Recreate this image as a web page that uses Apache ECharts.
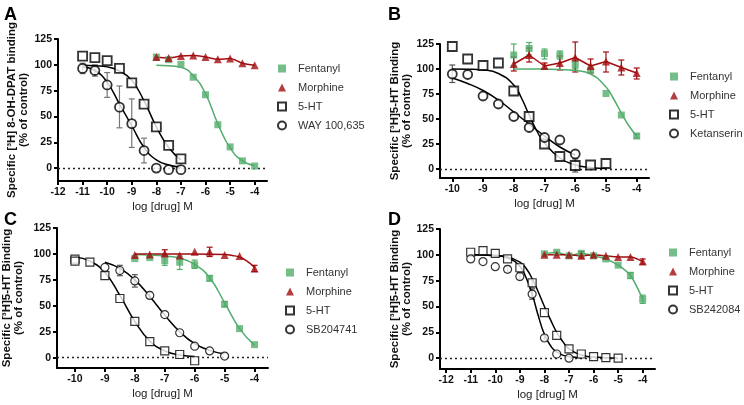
<!DOCTYPE html>
<html>
<head>
<meta charset="utf-8">
<title>Binding curves</title>
<script src="https://cdn.jsdelivr.net/npm/echarts@6/dist/echarts.min.js"></script>
<style>
  html, body { margin: 0; padding: 0; background: #fff; }
  #chart { width: 744px; height: 405px; }
</style>
</head>
<body>
<div id="chart"></div>
<script>
// tick labels
const ticksA = [-12, -11, -10, -9, -8, -7, -6, -5, -4];
const ticksB = [-10, -9, -8, -7, -6, -5, -4];
const ticksC = [-10, -9, -8, -7, -6, -5, -4];
const ticksD = [-12, -11, -10, -9, -8, -7, -6, -5, -4];
const yTicks = [0, 25, 50, 75, 100, 125];

// A: [3H] 8-OH-DPAT binding
const aFentanyl = [[-8, 107.5], [-7.5, 105], [-7, 100.5], [-6.5, 88], [-6, 71], [-5.5, 42], [-5, 20.5], [-4.5, 7], [-4, 2]];
const aMorphine = [[-8, 107.5], [-7.5, 106.5], [-7, 108.5], [-6.5, 109], [-6, 107.5], [-5.5, 105.5], [-5, 106], [-4.5, 101.5], [-4, 99.5]];
const a5HT = [[-11, 108.5], [-10.5, 107], [-10, 104], [-9.5, 96.5], [-9, 82.5], [-8.5, 62], [-8, 40], [-7.5, 22], [-7, 9]];
const aWay = [[-11, 96.5], [-10.5, 94.5], [-10, 80.5], [-9.5, 59], [-9, 43], [-8.5, 17], [-8, 0], [-7.5, -1.5], [-7, -1.5]];
const aWayErr = [[-11, 91.5, 101.5], [-10.5, 89, 100], [-10, 68.5, 92.5], [-9.5, 39, 79.5], [-9, 20, 67], [-8.5, 5, 29]];
const aFentanylFit = [[-8, 99.5], [-7.5, 99], [-7, 97.5], [-6.5, 89.5], [-6, 72], [-5.5, 43], [-5, 19.5], [-4.5, 7], [-4, 2.5]];
const a5HTFit = [[-11, 99.5], [-10.5, 99], [-10, 98], [-9.5, 94], [-9, 85], [-8.5, 65], [-8, 40], [-7.5, 20], [-7, 8]];
const aWayFit = [[-11, 98], [-10.5, 94.5], [-10, 83], [-9.5, 62], [-9, 41], [-8.5, 20], [-8, 8], [-7.5, 3], [-7, 1]];

// B: [3H]5-HT binding, ketanserin
const bFentanyl = [[-8, 114], [-7.5, 120.5], [-7, 115.5], [-6.5, 114], [-6, 104], [-5.5, 99], [-5, 75.5], [-4.5, 54], [-4, 33]];
const bFentanylErr = [[-8, 103, 125], [-7.5, 114, 126.5], [-7, 110, 120], [-6.5, 110, 118], [-6, 100, 108], [-4, 31, 35]];
const bMorphine = [[-8, 105], [-7.5, 114], [-7, 103], [-6.5, 106], [-6, 111.5], [-5.5, 103], [-5, 107.5], [-4.5, 101.5], [-4, 96]];
const bMorphineErr = [[-8, 98, 112], [-7.5, 107, 121], [-7, 100, 106], [-6.5, 99, 113], [-6, 97, 127], [-5.5, 96, 110], [-5, 97, 117], [-4.5, 94, 109], [-4, 90, 101]];
const b5HT = [[-10, 122.5], [-9.5, 110], [-9, 103.5], [-8.5, 106], [-8, 78], [-7.5, 52.5], [-7, 25], [-6.5, 12.5], [-6, 3.5], [-5.5, 4], [-5, 5.5]];
const b5HTErr = [[-6, -3, 10]];
const bKet = [[-10, 95], [-9.5, 94.5], [-9, 73], [-8.5, 65], [-8, 52.5], [-7.5, 41.5], [-7, 31.5], [-6.5, 29], [-6, 15]];
const bKetErr = [[-10, 86.5, 104]];
const bFentanylFit = [[-8, 100], [-7.5, 100], [-7, 99.8], [-6.5, 99.5], [-6, 98.5], [-5.5, 95], [-5, 82], [-4.75, 70], [-4.5, 56], [-4.25, 43], [-4, 33]];
const b5HTFit = [[-10, 100], [-9.5, 99.8], [-9, 99], [-8.5, 95.5], [-8, 84], [-7.75, 71], [-7.5, 54], [-7.25, 38], [-7, 26], [-6.5, 11], [-6, 4], [-5.5, 1.5], [-5, 0.5]];
const bKetFit = [[-10, 91], [-9.5, 85.5], [-9, 78.5], [-8.5, 69], [-8, 57], [-7.5, 45], [-7, 33], [-6.5, 22], [-6, 14]];

// C: [3H]5-HT binding, SB204741
const cFentanyl = [[-8, 95.5], [-7.5, 96.5], [-7, 93.5], [-6.5, 92], [-6, 89.5], [-5.5, 76.5], [-5, 51.5], [-4.5, 28], [-4, 12.5]];
const cFentanylErr = [[-7, 89, 99], [-6.5, 85, 98], [-6, 86, 94], [-5.5, 74, 79], [-5, 49, 54]];
const cMorphine = [[-8, 99], [-7.5, 99.5], [-7, 100.5], [-6.5, 98.5], [-6, 102], [-5.5, 102], [-5, 99], [-4.5, 98], [-4, 86]];
const cMorphineErr = [[-7, 98, 104], [-5.5, 97.5, 106.5], [-4, 83, 89]];
const c5HT = [[-10, 95], [-10, 93], [-9.5, 92], [-9, 79], [-8.5, 57], [-8, 35], [-7.5, 15.5], [-7, 6.5], [-6.5, 3], [-6, -3]];
const cSB = [[-9, 87], [-8.5, 84], [-8, 74], [-7.5, 60], [-7, 41.5], [-6.5, 24], [-6, 11], [-5.5, 6.5], [-5, 1.5]];
const cSBErr = [[-8.5, 79, 89], [-8, 68, 80], [-7.5, 57, 63]];
const cFentanylFit = [[-8, 99.5], [-7.5, 99], [-7, 98], [-6.5, 96], [-6, 90], [-5.5, 77], [-5, 53], [-4.5, 28], [-4, 12]];
const cMorphineFit = [[-8, 100], [-7, 100], [-6, 100], [-5, 99.5], [-4.75, 98.5], [-4.5, 97], [-4.25, 93], [-4, 87]];
const c5HTFit = [[-10, 97], [-9.5, 93], [-9, 82], [-8.5, 60], [-8, 35], [-7.5, 16], [-7, 6.5], [-6.5, 2.5], [-6, 1]];
const cSBFit = [[-9, 92], [-8.5, 86], [-8, 75], [-7.5, 59], [-7, 41], [-6.5, 25], [-6, 13.5], [-5.5, 7], [-5, 3.5]];

// D: [3H]5-HT binding, SB242084
const dFentanyl = [[-8, 101], [-7.5, 102.5], [-7, 99], [-6.5, 101.5], [-6, 99], [-5.5, 96], [-5, 90], [-4.5, 80], [-4, 57]];
const dFentanylErr = [[-4.5, 77, 83], [-4, 53, 61]];
const dMorphine = [[-8, 100], [-7.5, 100], [-7, 100], [-6.5, 99], [-6, 100], [-5.5, 99], [-5, 98], [-4.5, 98], [-4, 93.5]];
const dMorphineErr = [[-6.5, 97, 103], [-4, 91, 96]];
const d5HT = [[-11, 102.5], [-10.5, 104], [-10, 101.5], [-9.5, 96], [-9, 87.5], [-8.5, 73], [-8, 44], [-7.5, 22], [-7, 9], [-6.5, 4], [-6, 1.5], [-5.5, 0.5], [-5, 0]];
const d5HTErr = [[-8.5, 68, 76]];
const dSB = [[-11, 96], [-10.5, 93.5], [-10, 88.5], [-9.5, 86], [-9, 79], [-8.5, 62], [-8, 19.5], [-7.5, 4], [-7, 0]];
const dSBErr = [[-9.5, 83, 89], [-9, 76, 83], [-8.5, 57, 67], [-8, 17, 22]];
const d5HTFit = [[-11, 100], [-10, 99.5], [-9.5, 98], [-9, 93], [-8.75, 87], [-8.5, 77], [-8.25, 64], [-8, 50], [-7.75, 37], [-7.5, 25], [-7.25, 16], [-7, 9], [-6.5, 3], [-6, 1], [-5, 0]];
const dSBFit = [[-11, 100], [-10, 99], [-9.5, 97], [-9, 89], [-8.75, 78], [-8.5, 62], [-8.25, 41], [-8, 23], [-7.75, 12], [-7.5, 6], [-7, 1.5], [-6.5, 0.5]];

const GREEN = '#52ad6c';
const RED = '#a30d10';
const FONT = 'Liberation Sans, Arial, sans-serif';

const chart = echarts.init(document.getElementById('chart'));

// open symbols are drawn heavier in the top two panels
function pointSeries(name, data, kind, i) {
  const heavy = i < 2;
  const s = { name: name, type: 'scatter', xAxisIndex: i, yAxisIndex: i, data: data, z: 5, silent: true };
  if (kind === 'fent') {
    s.symbol = 'rect'; s.symbolSize = 7;
    s.itemStyle = { color: GREEN };
  } else if (kind === 'morph') {
    s.symbol = 'triangle'; s.symbolSize = 8;
    s.itemStyle = { color: RED };
  } else {
    s.symbol = kind === 'sq' ? 'rect' : 'circle';
    s.symbolSize = heavy ? 9 : 8;
    s.itemStyle = { color: '#fff', borderColor: '#000', borderWidth: heavy ? 1.8 : 1.2 };
  }
  return s;
}

function fitSeries(data, color, i, smooth) {
  return {
    type: 'line', xAxisIndex: i, yAxisIndex: i, data: data, smooth: smooth,
    symbol: 'none', silent: true, z: 3,
    lineStyle: { color: color, width: 1.5 }
  };
}

function zeroLine(i) {
  return {
    type: 'line', xAxisIndex: i, yAxisIndex: i, data: [], silent: true,
    markLine: {
      silent: true, symbol: 'none', label: { show: false }, animation: false,
      lineStyle: { type: [2, 3], color: '#222', width: 1.3 },
      data: [{ yAxis: 0 }]
    }
  };
}

function errSeries(data, color, i) {
  return {
    type: 'custom', xAxisIndex: i, yAxisIndex: i, data: data, silent: true, z: 2,
    renderItem: function (params, api) {
      const lo = api.coord([api.value(0), api.value(1)]);
      const hi = api.coord([api.value(0), api.value(2)]);
      const st = { stroke: color, lineWidth: 1.2 };
      return {
        type: 'group', children: [
          { type: 'line', shape: { x1: lo[0], y1: lo[1], x2: hi[0], y2: hi[1] }, style: st },
          { type: 'line', shape: { x1: lo[0] - 3, y1: lo[1], x2: lo[0] + 3, y2: lo[1] }, style: st },
          { type: 'line', shape: { x1: hi[0] - 3, y1: hi[1], x2: hi[0] + 3, y2: hi[1] }, style: st }
        ]
      };
    }
  };
}

function xAxis(i, min, max, ticks) {
  return {
    type: 'value', gridIndex: i, min: min, max: max,
    name: 'log [drug] M', nameLocation: 'middle', nameGap: 20,
    nameTextStyle: { fontSize: 11.5, color: '#222', fontFamily: FONT },
    axisLine: { onZero: false, lineStyle: { color: '#000', width: 2 } },
    axisTick: { customValues: ticks, length: 4, lineStyle: { color: '#000', width: 2 } },
    axisLabel: { customValues: ticks, fontSize: 10.5, fontWeight: 'bold', color: '#111', margin: 6, fontFamily: FONT },
    splitLine: { show: false }
  };
}

function yAxis(i, min, name, gap) {
  return {
    type: 'value', gridIndex: i, min: min, max: 125,
    name: name, nameLocation: 'middle', nameGap: gap,
    nameTextStyle: { fontSize: 11.5, fontWeight: 'bold', color: '#111', fontFamily: FONT, lineHeight: 12 },
    axisLine: { onZero: false, lineStyle: { color: '#000', width: 2 } },
    axisTick: { customValues: yTicks, length: 4, lineStyle: { color: '#000', width: 2 } },
    axisLabel: { customValues: yTicks, fontSize: 10.5, fontWeight: 'bold', color: '#111', margin: 6, fontFamily: FONT },
    splitLine: { show: false }
  };
}

function legend(names, left, top) {
  return {
    orient: 'vertical', left: left, top: top, itemWidth: 8, itemHeight: 8, itemGap: 8,
    selectedMode: false,
    textStyle: { fontSize: 11, color: '#333', fontFamily: FONT, padding: [0, 0, 0, 7] },
    data: names
  };
}

const name5HT = 'Specific [\u00b3H]5-HT Binding\n(% of control)';

const option = {
  animation: false,
  textStyle: { fontFamily: FONT },
  graphic: [
    { type: 'text', left: 4, top: 6, style: { text: 'A', font: 'bold 18px ' + FONT, fill: '#000' } },
    { type: 'text', left: 388, top: 6, style: { text: 'B', font: 'bold 18px ' + FONT, fill: '#000' } },
    { type: 'text', left: 4, top: 211, style: { text: 'C', font: 'bold 18px ' + FONT, fill: '#000' } },
    { type: 'text', left: 388, top: 211, style: { text: 'D', font: 'bold 18px ' + FONT, fill: '#000' } }
  ],
  grid: [
    { left: 58, top: 39, width: 209, height: 142 },
    { left: 440, top: 44, width: 209, height: 134 },
    { left: 57, top: 228, width: 211, height: 140 },
    { left: 440, top: 229, width: 215, height: 140 }
  ],
  xAxis: [
    xAxis(0, -12, -3.5, ticksA),
    xAxis(1, -10.4, -3.6, ticksB),
    xAxis(2, -10.6, -3.55, ticksC),
    xAxis(3, -12.25, -3.5, ticksD)
  ],
  yAxis: [
    yAxis(0, -12.5, 'Specific [\u00b3H] 8-OH-DPAT binding\n(% of control)', 28),
    yAxis(1, -9, name5HT, 25),
    yAxis(2, -10, name5HT, 32),
    yAxis(3, -10.5, name5HT, 24)
  ],
  legend: [
    legend(['Fentanyl', 'Morphine', '5-HT', 'WAY 100,635'], 272, 58),
    legend(['Fentanyl', 'Morphine', '5-HT', 'Ketanserin'], 664, 66),
    legend(['Fentanyl', 'Morphine', '5-HT', 'SB204741'], 280, 262),
    legend(['Fentanyl', 'Morphine', '5-HT', 'SB242084'], 663, 242)
  ],
  series: [
    // A
    zeroLine(0),
    errSeries(aWayErr, '#777', 0),
    fitSeries(aFentanylFit, GREEN, 0, true),
    fitSeries(aMorphine, RED, 0, 0.3),
    fitSeries(a5HTFit, '#000', 0, true),
    fitSeries(aWayFit, '#000', 0, true),
    pointSeries('Fentanyl', aFentanyl, 'fent', 0),
    pointSeries('Morphine', aMorphine, 'morph', 0),
    pointSeries('5-HT', a5HT, 'sq', 0),
    pointSeries('WAY 100,635', aWay, 'ci', 0),
    // B
    zeroLine(1),
    errSeries(bFentanylErr, GREEN, 1),
    errSeries(bMorphineErr, RED, 1),
    errSeries(b5HTErr, '#555', 1),
    errSeries(bKetErr, '#555', 1),
    fitSeries(bFentanylFit, GREEN, 1, true),
    fitSeries(bMorphine, RED, 1, false),
    fitSeries(b5HTFit, '#000', 1, true),
    fitSeries(bKetFit, '#000', 1, true),
    pointSeries('Fentanyl', bFentanyl, 'fent', 1),
    pointSeries('Morphine', bMorphine, 'morph', 1),
    pointSeries('5-HT', b5HT, 'sq', 1),
    pointSeries('Ketanserin', bKet, 'ci', 1),
    // C
    zeroLine(2),
    errSeries(cFentanylErr, GREEN, 2),
    errSeries(cMorphineErr, RED, 2),
    errSeries(cSBErr, '#555', 2),
    fitSeries(cFentanylFit, GREEN, 2, true),
    fitSeries(cMorphineFit, RED, 2, true),
    fitSeries(c5HTFit, '#000', 2, true),
    fitSeries(cSBFit, '#000', 2, true),
    pointSeries('Fentanyl', cFentanyl, 'fent', 2),
    pointSeries('Morphine', cMorphine, 'morph', 2),
    pointSeries('5-HT', c5HT, 'sq', 2),
    pointSeries('SB204741', cSB, 'ci', 2),
    // D
    zeroLine(3),
    errSeries(dFentanylErr, GREEN, 3),
    errSeries(dMorphineErr, RED, 3),
    errSeries(d5HTErr, '#555', 3),
    errSeries(dSBErr, '#555', 3),
    fitSeries(dFentanyl, GREEN, 3, 0.3),
    fitSeries(dMorphine, RED, 3, 0.3),
    fitSeries(d5HTFit, '#000', 3, true),
    fitSeries(dSBFit, '#000', 3, true),
    pointSeries('Fentanyl', dFentanyl, 'fent', 3),
    pointSeries('Morphine', dMorphine, 'morph', 3),
    pointSeries('5-HT', d5HT, 'sq', 3),
    pointSeries('SB242084', dSB, 'ci', 3)
  ]
};

chart.setOption(option);
</script>
</body>
</html>
